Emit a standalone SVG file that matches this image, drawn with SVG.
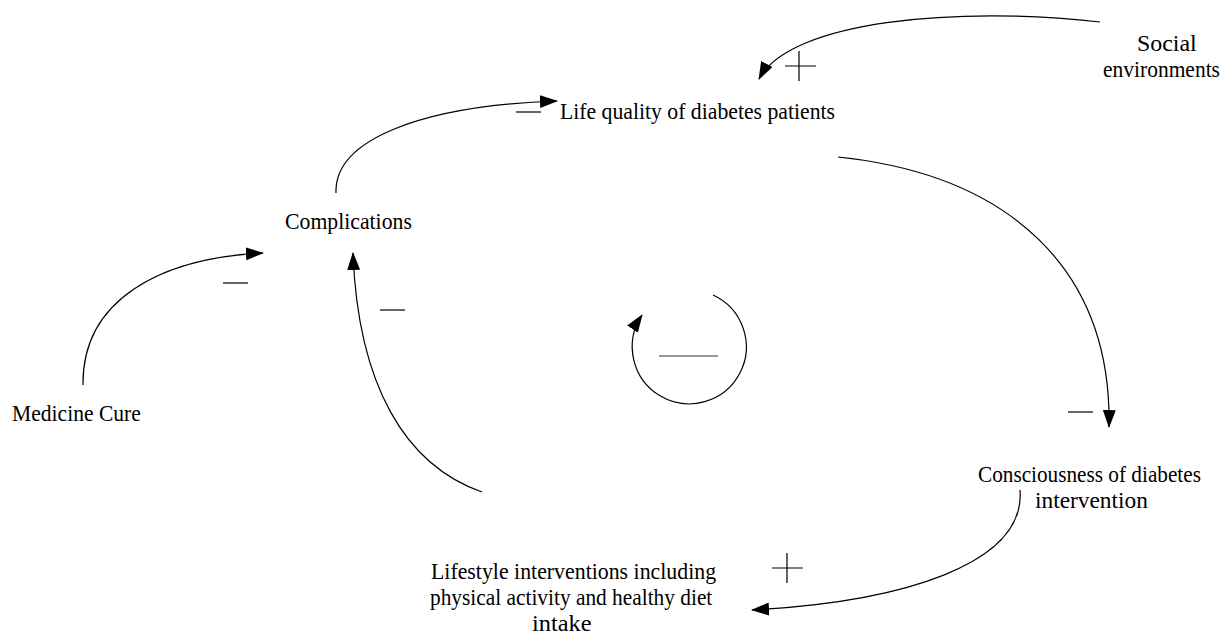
<svg xmlns="http://www.w3.org/2000/svg" width="1224" height="637" viewBox="0 0 1224 637">
<style>
  .lbl { font-family: "Liberation Serif", "Times New Roman", serif; font-size: 23px; fill: #000; }
  .cn { fill: none; stroke: #000; stroke-width: 1.2; }
  .sg { stroke: #000; stroke-width: 1.2; fill: none; }
</style>
<defs>
  <marker id="ah" markerUnits="userSpaceOnUse" markerWidth="19" markerHeight="14" refX="17" refY="6.5" orient="auto">
    <path d="M0,0 L18,6.5 L0,13 z" fill="#000"/>
  </marker>
</defs>
<rect width="1224" height="637" fill="#fff"/>

<g id="connectors">
  <path class="cn" d="M1100,22 C 960,6 790,20 759,79" marker-end="url(#ah)"/>
  <path class="cn" d="M336,193 C 334,140 420,106 557,101" marker-end="url(#ah)"/>
  <path class="cn" d="M83,385 C 82,300 160,258 263,253" marker-end="url(#ah)"/>
  <path class="cn" d="M482,492 C 405,465 358,385 353,253" marker-end="url(#ah)"/>
  <path class="cn" d="M838,157 C 1010,175 1112,270 1109,427" marker-end="url(#ah)"/>
  <path class="cn" d="M1020,490 C 1026,565 900,602 752,610" marker-end="url(#ah)"/>
  <path class="cn" d="M713,295 A57,57 0 1 1 642,315" marker-end="url(#ah)"/>
</g>

<g id="polarity">
  <path class="sg" d="M785,66 H816 M799,51 V81"/>
  <path class="sg" d="M772,568 H803 M787,553 V583"/>
  <path class="sg" d="M516,112 H541"/>
  <path class="sg" d="M223,283 H248"/>
  <path class="sg" d="M380,310 H405"/>
  <path class="sg" d="M1068,412 H1093"/>
  <path d="M659,356 H718" stroke="#777" stroke-width="1.6"/>
</g>

<g id="social">
  <text class="lbl" transform="translate(1137,51) scale(1.04,1)">Social</text>
  <text class="lbl" transform="translate(1103,77) scale(0.935,1)">environments</text>
</g>
<g id="life-quality">
  <text class="lbl" transform="translate(560,119) scale(0.945,1)">Life quality of diabetes patients</text>
</g>
<g id="complications">
  <text class="lbl" transform="translate(285,229) scale(0.946,1)">Complications</text>
</g>
<g id="medicine">
  <text class="lbl" transform="translate(12,421) scale(0.939,1)">Medicine Cure</text>
</g>
<g id="consciousness">
  <text class="lbl" transform="translate(978,482) scale(0.924,1)">Consciousness of diabetes</text>
  <text class="lbl" transform="translate(1035,508) scale(1.016,1)">intervention</text>
</g>
<g id="lifestyle">
  <text class="lbl" transform="translate(431,579) scale(0.95,1)">Lifestyle interventions including</text>
  <text class="lbl" transform="translate(430,605) scale(0.929,1)">physical activity and healthy diet</text>
  <text class="lbl" transform="translate(532,631) scale(1.06,1)">intake</text>
</g>
</svg>
